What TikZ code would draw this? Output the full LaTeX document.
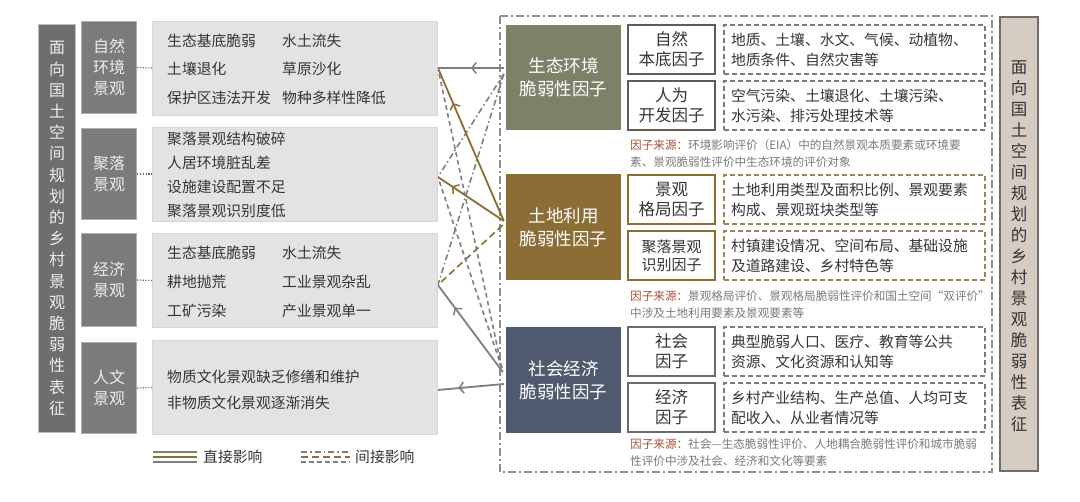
\documentclass[tikz,border=0pt]{standalone}
\usepackage{fontspec}
\setmainfont{Noto Sans CJK SC}
\usetikzlibrary{arrows.meta,decorations.markings,calc}
\pgfdeclarelayer{background}
\pgfsetlayers{background,main}
\definecolor{bargray}{HTML}{6E6E6E}
\definecolor{barborder}{HTML}{BDBDBD}
\definecolor{catgray}{HTML}{7B7B7B}
\definecolor{catborder}{HTML}{B0B0B0}
\definecolor{cattext}{HTML}{EDEDED}
\definecolor{contfill}{HTML}{E3E3E3}
\definecolor{contborder}{HTML}{D6D6D6}
\definecolor{textdark}{HTML}{353535}
\definecolor{ecocol}{HTML}{7C8268}
\definecolor{landcol}{HTML}{8C6D35}
\definecolor{soccol}{HTML}{4F5A6E}
\definecolor{linegray}{HTML}{7E7E7E}
\definecolor{linebrown}{HTML}{8C6D35}
\definecolor{framegray}{HTML}{8E8E8E}
\definecolor{ecoborder}{HTML}{5E5E54}
\definecolor{socborder}{HTML}{6A6A6A}
\definecolor{descgray}{HTML}{7C7C7C}
\definecolor{descbrown}{HTML}{9C8458}
\definecolor{srcred}{HTML}{A5523A}
\definecolor{srcgray}{HTML}{7A7A7A}
\definecolor{rbarfill}{HTML}{D6CCC2}
\definecolor{rbarborder}{HTML}{6E6E6E}
\definecolor{dotcol}{HTML}{6F6A55}
\newcommand\myfs[2]{\fontsize{#1}{#2}\selectfont}
\begin{document}
\begin{tikzpicture}[x=1pt,y=-1pt,
  titlebar/.style={fill=bargray, draw=barborder, line width=1.2pt, minimum width=37pt, inner sep=0, text=cattext, align=center, font=\myfs{16}{21.2}},
  rbar/.style={fill=rbarfill, draw=rbarborder, line width=2.2pt, minimum width=38pt, minimum height=454pt, inner sep=0},
  cat/.style={fill=catgray, draw=catborder, line width=1.2pt, minimum width=55pt, inner sep=0, text=cattext, align=center, font=\myfs{16}{21}},
  cont/.style={fill=contfill, draw=contborder, line width=0.8pt, minimum width=285pt, minimum height=94pt, inner sep=0},
  ctext/.style={anchor=west, inner sep=0, font=\myfs{14.8}{18}, text=textdark},
  factor/.style={fill=#1, minimum width=115pt, minimum height=105pt, inner sep=0, text=white, align=center, font=\myfs{17.5}{23}},
  sub/.style={draw=#1, fill=white, line width=2pt, minimum width=87pt, minimum height=49pt, inner sep=0, align=center, font=\myfs{16.5}{20}, text=textdark},
  desc/.style={draw=#1, line width=1.5pt, dash pattern=on 5pt off 3pt, minimum width=261pt, minimum height=49pt, inner xsep=7pt, inner ysep=0, text width=247pt, align=left, font=\myfs{14.8}{20}, text=textdark},
  src/.style={anchor=west, inner sep=0, align=left, font=\myfs{11.6}{17}, text=srcgray},
  direct/.style={draw=#1, line width=1.8pt},
  arrowmid/.style={postaction={decorate}, decoration={markings, mark=at position #1 with {\arrow{Straight Barb[length=4.5pt,width=11pt,line width=1.5pt]}}}},
  ddgray/.style={draw=linegray, line width=1.6pt, dash pattern=on 6pt off 3pt on 1.5pt off 3pt},
  dbrown/.style={draw=linebrown, line width=1.6pt, dash pattern=on 7pt off 4pt},
  dgray/.style={draw=linegray, line width=1.6pt, dash pattern=on 4.5pt off 3.5pt},
  dotlink/.style={draw=dotcol, line width=1.2pt, dash pattern=on 1.2pt off 1.6pt},
  legtext/.style={anchor=west, inner sep=0, font=\myfs{14.8}{18}, text=textdark}
]
\useasboundingbox (0,0) rectangle (1080,502);

% left title bar
\node[titlebar, minimum height=408pt] (lbar) at (57,228.5) {面\\向\\国\\土\\空\\间\\规\\划\\的\\乡\\村\\景\\观\\脆\\弱\\性\\表\\征};

% categories
\node[cat, minimum height=92pt] (k1) at (109,67.5) {自然\\环境\\景观};
\node[cat, minimum height=91pt] (k2) at (109,174) {聚落\\景观};
\node[cat, minimum height=93pt] (k3) at (109,280) {经济\\景观};
\node[cat, minimum height=91pt] (k4) at (109,388) {人文\\景观};

% content boxes
\node[cont] (c1) at (295,68) {};
\node[cont] (c2) at (295,174) {};
\node[cont] (c3) at (295,280.5) {};
\node[cont] (c4) at (295,387.5) {};

\draw[dotlink] (k1.east) -- (c1.west);
\draw[dotlink] (k2.east) -- (c2.west);
\draw[dotlink] (k3.east) -- (c3.west);
\draw[dotlink] (k4.east) -- (c4.west);

% content texts
\node[ctext] (t11) at (167,41) {生态基底脆弱};
\node[ctext] (t12) at (282,41) {水土流失};
\node[ctext] (t13) at (167,69) {土壤退化};
\node[ctext] (t14) at (282,69) {草原沙化};
\node[ctext] (t15) at (167,98) {保护区违法开发};
\node[ctext] (t16) at (282,98) {物种多样性降低};
\node[ctext] (t21) at (167,139) {聚落景观结构破碎};
\node[ctext] (t22) at (167,163) {人居环境脏乱差};
\node[ctext] (t23) at (167,187) {设施建设配置不足};
\node[ctext] (t24) at (167,211) {聚落景观识别度低};
\node[ctext] (t31) at (167,253) {生态基底脆弱};
\node[ctext] (t32) at (282,253) {水土流失};
\node[ctext] (t33) at (167,282) {耕地抛荒};
\node[ctext] (t34) at (282,282) {工业景观杂乱};
\node[ctext] (t35) at (167,311) {工矿污染};
\node[ctext] (t36) at (282,311) {产业景观单一};
\node[ctext] (t41) at (167,377) {物质文化景观缺乏修缮和维护};
\node[ctext] (t42) at (167,403) {非物质文化景观逐渐消失};

% factor boxes
\node[factor=ecocol] (f1) at (563.5,77.5) {生态环境\\脆弱性因子};
\node[factor=landcol, minimum height=106pt] (f2) at (563.5,227) {土地利用\\脆弱性因子};
\node[factor=soccol, minimum height=106pt] (f3) at (563.5,380) {社会经济\\脆弱性因子};

% sub factors
\node[sub=ecoborder] (s1) at (671.5,49.5) {自然\\本底因子};
\node[sub=ecoborder] (s2) at (671.5,105.5) {人为\\开发因子};
\node[sub=landcol] (s3) at (671.5,199.5) {景观\\格局因子};
\node[sub=landcol, font=\myfs{15}{18}] (s4) at (671.5,255.5) {聚落景观\\识别因子};
\node[sub=socborder] (s5) at (671.5,351.5) {社会\\因子};
\node[sub=socborder] (s6) at (671.5,407.5) {经济\\因子};

% descriptions
\node[desc=descgray] (d1) at (854.5,49.5) {地质、土壤、水文、气候、动植物、\\地质条件、自然灾害等};
\node[desc=descgray] (d2) at (854.5,105.5) {空气污染、土壤退化、土壤污染、\\水污染、排污处理技术等};
\node[desc=descbrown] (d3) at (854.5,199.5) {土地利用类型及面积比例、景观要素\\构成、景观斑块类型等};
\node[desc=descbrown] (d4) at (854.5,255.5) {村镇建设情况、空间布局、基础设施\\及道路建设、乡村特色等};
\node[desc=descgray] (d5) at (854.5,351.5) {典型脆弱人口、医疗、教育等公共\\资源、文化资源和认知等};
\node[desc=descgray] (d6) at (854.5,407.5) {乡村产业结构、生产总值、人均可支\\配收入、从业者情况等};

% sources
\node[src] (r1) at (630,153.5) {{\color{srcred}因子来源：}环境影响评价（EIA）中的自然景观本质要素或环境要\\素、景观脆弱性评价中生态环境的评价对象};
\node[src] (r2) at (630,305) {{\color{srcred}因子来源：}景观格局评价、景观格局脆弱性评价和国土空间“双评价”\\中涉及土地利用要素及景观要素等};
\node[src] (r3) at (630,453) {{\color{srcred}因子来源：}社会—生态脆弱性评价、人地耦合脆弱性评价和城市脆弱\\性评价中涉及社会、经济和文化等要素};

% right bar
\node[rbar] (rb) at (1019,244) {};
\node[inner sep=0, align=center, text=textdark, font=\myfs{16.5}{21}] (rbt) at (1019,246.5) {面\\向\\国\\土\\空\\间\\规\\划\\的\\乡\\村\\景\\观\\脆\\弱\\性\\表\\征};

% legend
\coordinate (la1) at (153,452); \coordinate (lb1) at (197,452);
\coordinate (la2) at (153,457); \coordinate (lb2) at (197,457);
\coordinate (la3) at (153,462); \coordinate (lb3) at (197,462);
\draw[direct=linegray] (la1) -- (lb1);
\draw[direct=linebrown] (la2) -- (lb2);
\draw[direct=linegray] (la3) -- (lb3);
\node[legtext] (lg1) at (203,457) {直接影响};
\coordinate (ma1) at (301,452); \coordinate (mb1) at (350,452);
\coordinate (ma2) at (301,457); \coordinate (mb2) at (350,457);
\coordinate (ma3) at (301,462); \coordinate (mb3) at (350,462);
\draw[ddgray] (ma1) -- (mb1);
\draw[dbrown] (ma2) -- (mb2);
\draw[dgray] (ma3) -- (mb3);
\node[legtext] (lg2) at (355,457) {间接影响};

\begin{pgfonlayer}{background}
\fill[white] (0,0) rectangle (1080,502);
% right frame
\draw[draw=framegray, line width=1.6pt, dash pattern=on 8pt off 3pt on 2pt off 3pt] (500,16) rectangle (992,472);
% connector end coordinates
\coordinate (e1) at ($(f1.west)+(-2,-9.5)$);
\coordinate (e2) at ($(f1.west)+(-2,-3.5)$);
\coordinate (l1) at ($(f2.west)+(-2,-6)$);
\coordinate (l2) at ($(f2.west)+(-3,-2)$);
\coordinate (o1) at ($(f3.west)+(-3,-8)$);
\coordinate (o2) at ($(f3.west)+(-2,4)$);
\coordinate (o3) at ($(f3.west)+(-4,-12)$);
\coordinate (p1) at (c1.east);
\coordinate (p2) at ($(c2.east)+(0,3)$);
\coordinate (p3) at ($(c3.east)+(0,4.5)$);
\coordinate (p4) at ($(c4.east)+(0,2.5)$);
% indirect
\draw[ddgray] (e2) -- (p2);
\draw[ddgray] (e2) -- (p3);
\draw[dbrown] (l2) -- (p3);
\draw[dgray] (o3) -- (p1);
\draw[dgray] (o3) -- (p2);
% direct
\draw[direct=linegray, arrowmid=0.5] (e1) -- (p1);
\draw[direct=linebrown, arrowmid=0.77] (l1) -- (p1);
\draw[direct=linebrown, arrowmid=0.79] (l1) -- (p2);
\draw[direct=linegray, arrowmid=0.74] (o1) -- (p3);
\draw[direct=linegray, arrowmid=0.69] (o2) -- (p4);
\end{pgfonlayer}
\end{tikzpicture}
\end{document}
